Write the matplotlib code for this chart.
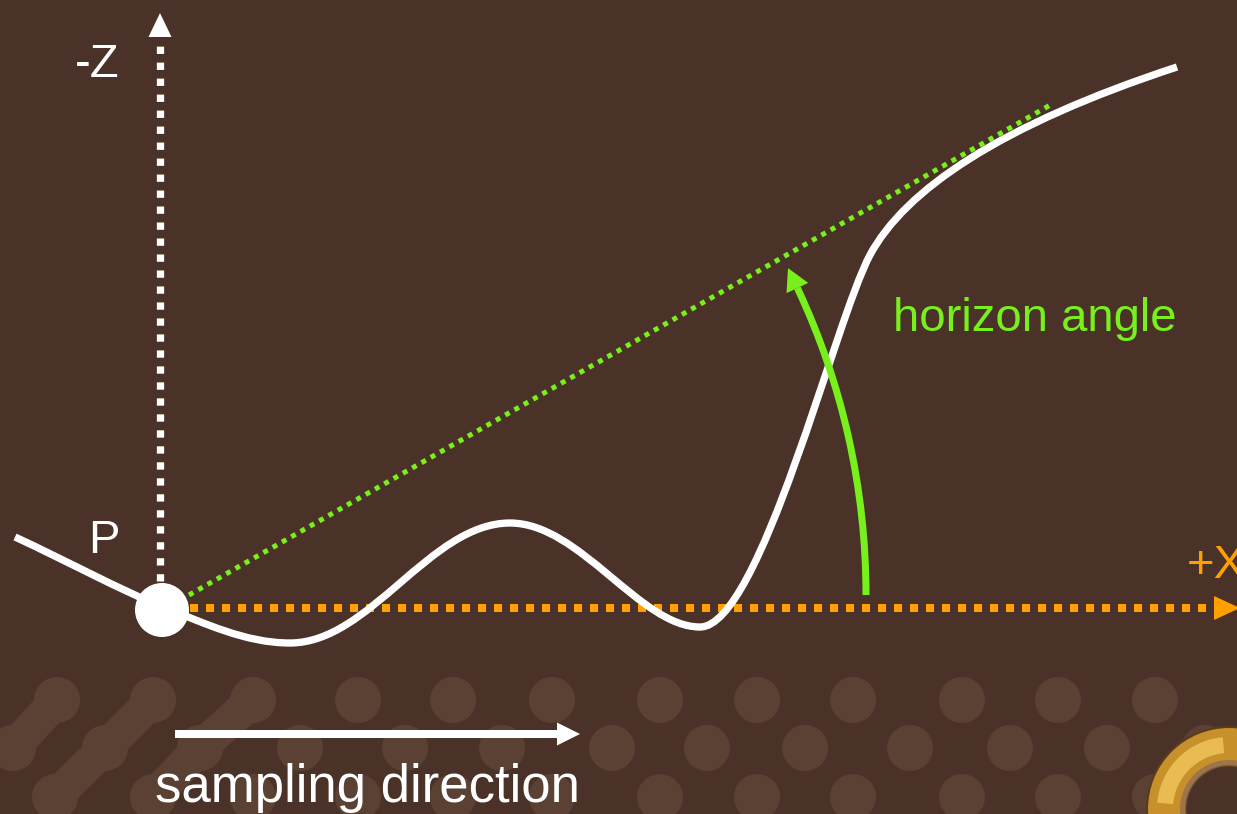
import numpy as np
import matplotlib
matplotlib.use("Agg")
import matplotlib.pyplot as plt
from matplotlib.path import Path
from matplotlib.patches import PathPatch, Circle, Wedge
from matplotlib.transforms import Affine2D

# ---------------- data (pixel-space diagram coordinates) ----------------
# terrain profile: cubic Bezier segments (start, ctrl1, ctrl2, end ...)
terrain_start = (15, 537)
terrain_ctrl = [
    [(65, 560), (120, 590), (165, 608)],
    [(205, 623), (245, 643), (290, 643)],
    [(370, 643), (430, 523), (510, 523)],
    [(580, 523), (640, 627), (700, 627)],
    [(760, 627), (835, 320), (870, 255)],
    [(905, 190), (1000, 125), (1177, 67)],
]
point_P = (162, 610)
point_P_radius = 27

z_axis_x = 160
z_axis_y = (597, 40)
z_arrow_tip = 13

x_axis_y = 608
x_axis_x = (190, 1214)
x_arrow_tip = 1240

horizon_line = [(189, 595), (1052, 104)]
horizon_center = (145, 595)
horizon_radius = 721
horizon_angles = (0.0, 25.2)
horizon_head_len = 22

sampling_arrow = [(175, 734), (580, 734)]

labels = {
    "-Z": (75, 77),
    "P": (88, 553),
    "+X": (1187, 578),
    "horizon angle": (893, 331),
    "sampling direction": (155, 802),
}
label_sizes = {"-Z": 34, "P": 34, "+X": 34, "horizon angle": 34,
               "sampling direction": 38}

dot_rows_y = [700, 748, 797]
dot_row1_x = [57, 153, 253, 358, 453, 552, 660, 757, 853, 962, 1058, 1155]
dot_row2_x = [13, 105, 200, 300, 405, 502, 612, 707, 805, 910, 1010, 1107, 1205]
dot_row3_x = [55, 153, 253, 358, 453, 552, 660, 757, 853, 962, 1058, 1155]
dot_chains = [[(13, 748), (57, 700)],
              [(55, 797), (105, 748), (153, 700)],
              [(153, 797), (200, 748), (253, 700)]]
dot_radius = 23

ring_center = (1229, 809)
ring_outer = 82
ring_inner = 43

# ---------------- styles ----------------
BG = "#4a3228"
DOT = "#5a4133"
WHITE = "#ffffff"
ORANGE = "#ffa000"
GREEN = "#78f01c"
FONT = "Liberation Sans"
PX = 0.72  # points per pixel at dpi 100

fig = plt.figure(figsize=(12.37, 8.14), dpi=100)
fig.patch.set_facecolor(BG)
ax = fig.add_axes([0, 0, 1, 1])
ax.set_xlim(0, 1237)
ax.set_ylim(814, 0)
ax.set_facecolor(BG)
ax.axis("off")

# background dots
for y, xs in zip(dot_rows_y, [dot_row1_x, dot_row2_x, dot_row3_x]):
    for x in xs:
        ax.add_patch(Circle((x, y), dot_radius, facecolor=DOT, edgecolor="none", zorder=1))
for chain in dot_chains:
    cx, cy = zip(*chain)
    ax.plot(cx, cy, color=DOT, lw=34 * PX, solid_capstyle="round",
            solid_joinstyle="round", zorder=1)

# gold ring decoration (y axis inverted: 180-270 deg is upper-left on screen)
ax.add_patch(Wedge(ring_center, ring_outer, 0, 360, width=ring_outer - ring_inner,
                   facecolor="#c8902a", edgecolor="#5a3c1c", lw=1.5, zorder=2))
ax.add_patch(Wedge(ring_center, ring_outer - 10, 185, 265, width=16,
                   facecolor="#f0c458", edgecolor="none", alpha=0.85, zorder=2))
ax.add_patch(Wedge(ring_center, ring_inner + 6, 0, 360, width=6,
                   facecolor="#8a6a58", edgecolor="none", alpha=0.7, zorder=2))

# -Z axis (dotted white) with arrowhead
ax.plot([z_axis_x, z_axis_x], list(z_axis_y), color=WHITE, lw=7.3 * PX,
        linestyle=(0, (1, 1.19)), dash_capstyle="butt", zorder=3)
ax.arrow(z_axis_x, z_axis_y[1], 0, z_arrow_tip - z_axis_y[1], width=0.01,
         head_width=23, head_length=24, length_includes_head=True,
         color=WHITE, lw=0, zorder=3)

# +X axis (dotted orange) with arrowhead
ax.plot(list(x_axis_x), [x_axis_y, x_axis_y], color=ORANGE, lw=8 * PX,
        linestyle=(0, (1, 1)), dash_capstyle="butt", zorder=3)
ax.arrow(x_axis_x[1], x_axis_y, x_arrow_tip - x_axis_x[1], 0, width=0.01,
         head_width=24, head_length=26, length_includes_head=True,
         color=ORANGE, lw=0, zorder=3)

# horizon line (green dotted)
hx, hy = zip(*horizon_line)
ax.plot(hx, hy, color=GREEN, lw=5 * PX, linestyle=(0, (1, 1.14)),
        dash_capstyle="butt", zorder=3)

# terrain curve
verts = [terrain_start]
codes = [Path.MOVETO]
for seg in terrain_ctrl:
    verts += seg
    codes += [Path.CURVE4] * 3
ax.add_patch(PathPatch(Path(verts, codes), facecolor="none", edgecolor=WHITE,
                       lw=7.3 * PX, capstyle="butt", joinstyle="round", zorder=4))

# point P
ax.add_patch(Circle(point_P, point_P_radius, facecolor=WHITE, edgecolor="none", zorder=5))

# horizon angle arc arrow
arc = Path.arc(*horizon_angles)
arc = Affine2D().scale(horizon_radius, -horizon_radius).translate(*horizon_center).transform_path(arc)
ax.add_patch(PathPatch(arc, facecolor="none", edgecolor=GREEN, lw=7 * PX,
                       capstyle="butt", zorder=5))
th = np.deg2rad(horizon_angles[1])
bx = horizon_center[0] + horizon_radius * np.cos(th)
by = horizon_center[1] - horizon_radius * np.sin(th)
ax.arrow(bx, by, -horizon_head_len * np.sin(th), -horizon_head_len * np.cos(th),
         width=0.01, head_width=24, head_length=horizon_head_len,
         length_includes_head=True, color=GREEN, lw=0, zorder=5)

# sampling direction arrow
(sx0, sy0), (sx1, sy1) = sampling_arrow
ax.arrow(sx0, sy0, sx1 - sx0, sy1 - sy0, width=8, head_width=23, head_length=23,
         length_includes_head=True, color=WHITE, lw=0, zorder=5)

# labels
label_colors = {"-Z": WHITE, "P": WHITE, "+X": ORANGE,
                "horizon angle": GREEN, "sampling direction": WHITE}
for txt, (x, y) in labels.items():
    ax.text(x, y, txt, color=label_colors[txt], fontsize=label_sizes[txt], family=FONT,
            ha="left", va="baseline", zorder=6)

fig.savefig("out.png", dpi=100, facecolor=BG)
